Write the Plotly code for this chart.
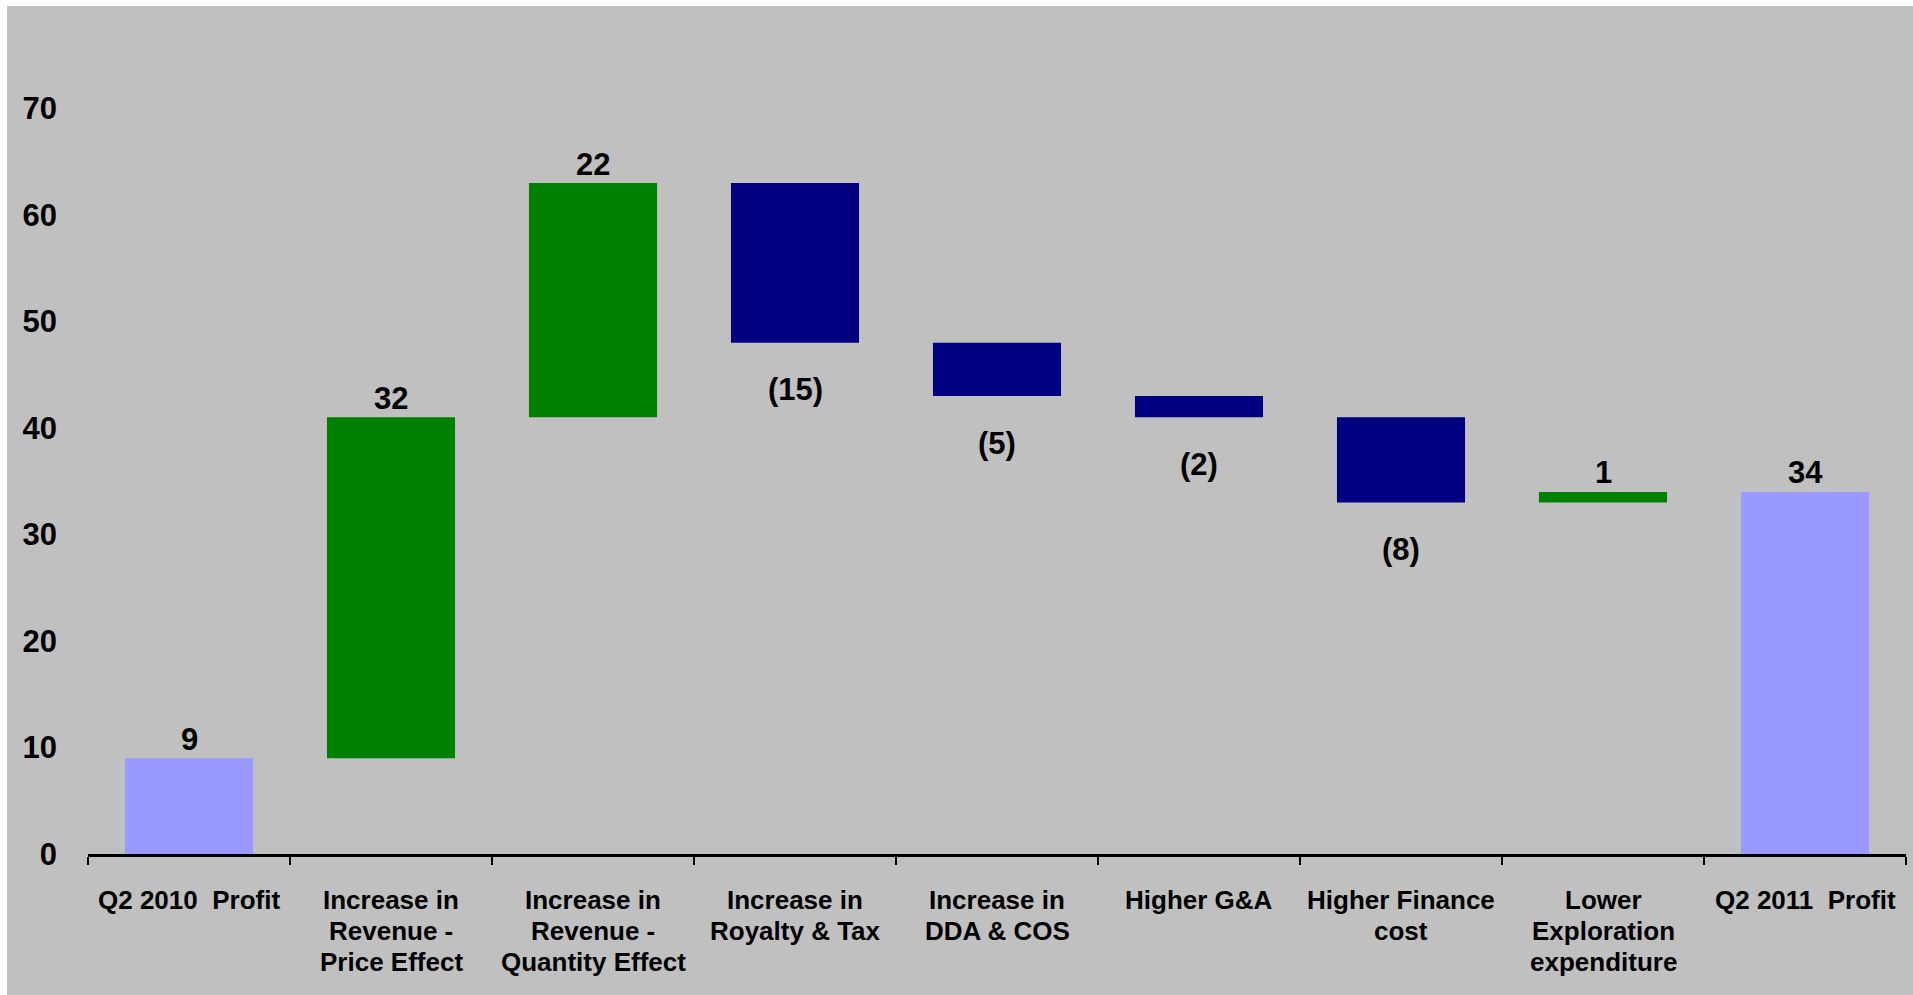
import plotly.graph_objects as go

# Profit bridge: Q2 2010 -> Q2 2011
categories = [
    "Q2\u00a02010\u00a0\u00a0Profit",
    "Increase in<br>Revenue -<br>Price Effect",
    "Increase in<br>Revenue -<br>Quantity Effect",
    "Increase in<br>Royalty & Tax",
    "Increase in<br>DDA & COS",
    "Higher G&A",
    "Higher Finance<br>cost",
    "Lower<br>Exploration<br>expenditure",
    "Q2\u00a02011\u00a0\u00a0Profit",
]
measures = ["absolute", "relative", "relative", "relative", "relative",
            "relative", "relative", "relative", "total"]
values = [9, 32, 22, -15, -5, -2, -8, 1, 34]
y_ticks = [0, 10, 20, 30, 40, 50, 60, 70]

TOTAL_C = "#9999FF"
UP_C = "#008000"
DOWN_C = "#000080"
BG = "#C0C0C0"
FONT = "Liberation Sans, Arial, sans-serif"

fig = go.Figure()
fig.add_trace(go.Waterfall(
    x=categories,
    y=values,
    measure=measures,
    connector=dict(visible=False),
    increasing=dict(marker=dict(color=UP_C)),
    decreasing=dict(marker=dict(color=DOWN_C)),
    totals=dict(marker=dict(color=TOTAL_C)),
    hoverinfo="skip",
    showlegend=False,
))

# value labels: above rising/total bars, below falling bars
running = 0
for cat, m, v in zip(categories, measures, values):
    if m == "absolute":
        running = v
        end, val = v, v
    elif m == "total":
        end, val = running, running
    else:
        running += v
        end, val = running, v
    text = f"({abs(val)})" if val < 0 else f"{val}"
    fig.add_annotation(
        x=cat, y=end, text=text, showarrow=False,
        yanchor="middle", yshift=(-47 if val < 0 else 19),
        font=dict(family=FONT, size=31, color="black", weight="bold"),
    )

# category labels, one line at a time for a tighter line pitch
for cat in categories:
    for i, line in enumerate(cat.split("<br>")):
        fig.add_annotation(
            x=cat, xref="x", y=0, yref="paper", text=line, showarrow=False,
            yanchor="middle", yshift=-46 - 31 * i,
            font=dict(family=FONT, size=26, color="black", weight="bold"),
        )

fig.update_layout(
    width=1913, height=995,
    margin=dict(l=88, r=7, t=2, b=141),
    paper_bgcolor="white",
    plot_bgcolor="rgba(0,0,0,0)",
    waterfallgap=0.366,
    shapes=[dict(type="rect", xref="paper", yref="paper",
                 x0=-0.04455, x1=1.01, y0=-0.17, y1=0.99531,
                 fillcolor=BG, line=dict(width=0), layer="below")],
    xaxis=dict(
        type="category",
        showline=True, linecolor="black", linewidth=3,
        ticks="outside", tickson="boundaries", ticklen=8, tickwidth=2,
        tickcolor="black", showticklabels=False,
        showgrid=False, zeroline=False,
    ),
    yaxis=dict(
        range=[0, 80], tickvals=y_ticks,
        showline=False, ticks="", showgrid=False, zeroline=False,
        tickfont=dict(family=FONT, size=31, color="black", weight="bold"),
        ticklabelstandoff=30,
    ),
)

fig.write_html("out.html")
